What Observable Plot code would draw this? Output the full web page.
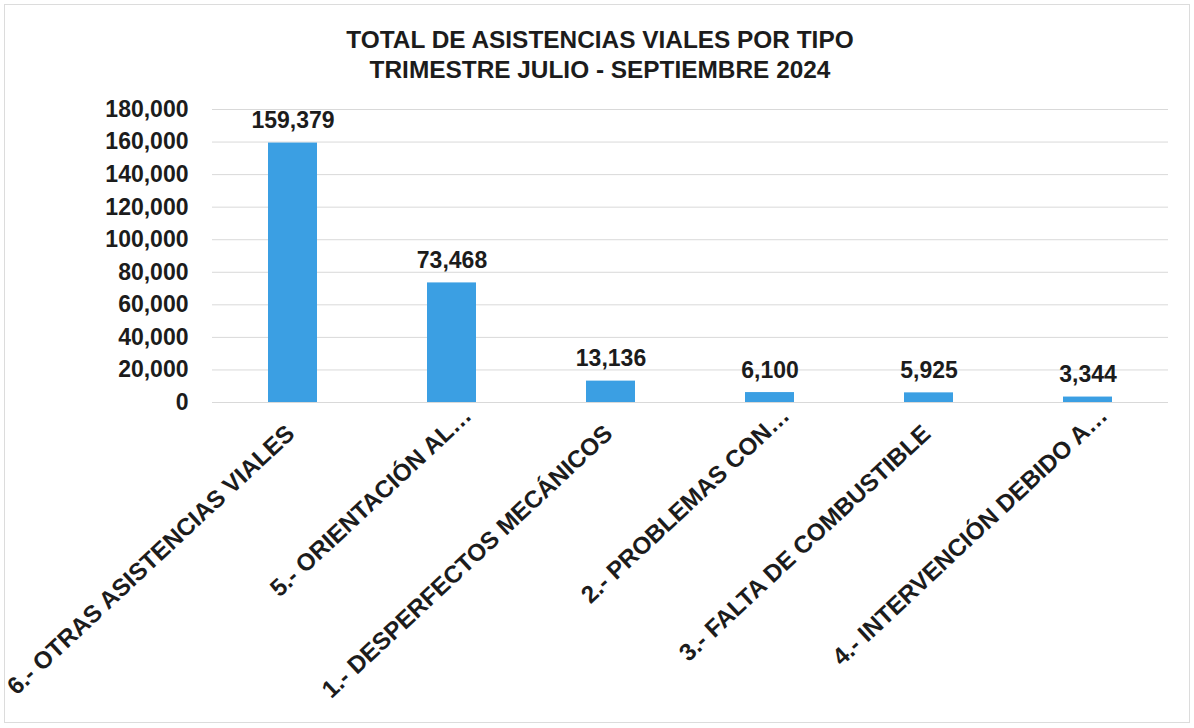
<!DOCTYPE html>
<html>
<head>
<meta charset="utf-8">
<script src="https://cdn.jsdelivr.net/npm/d3@7"></script>
<script src="https://cdn.jsdelivr.net/npm/@observablehq/plot@0.6"></script>
<style>
  html, body { margin: 0; padding: 0; background: #ffffff; }
  #wrap { position: relative; width: 1194px; height: 728px; overflow: hidden; background: #fff;
          font-family: "Liberation Sans", Arial, sans-serif; color: #1c1c1c; }
  #frame { position: absolute; left: 4px; top: 4px; width: 1186px; height: 719px;
           border: 1px solid #dcdcdc; box-sizing: border-box; pointer-events: none; }
  #title { box-sizing: border-box; height: 90px; padding-top: 25px; text-align: center;
           font-size: 24.4px; font-weight: bold; line-height: 30px; padding-left: 6px; }
  #chart svg { display: block; }
</style>
</head>
<body>
<div id="wrap">
  <div id="frame"></div>
  <div id="title">TOTAL DE ASISTENCIAS VIALES POR TIPO<br>TRIMESTRE JULIO - SEPTIEMBRE 2024</div>
  <div id="chart"></div>
</div>
<script>
const categories = [
  "6.- OTRAS ASISTENCIAS VIALES",
  "5.- ORIENTACIÓN AL…",
  "1.- DESPERFECTOS MECÁNICOS",
  "2.- PROBLEMAS CON…",
  "3.- FALTA DE COMBUSTIBLE",
  "4.- INTERVENCIÓN DEBIDO A…"
];
const values = [159379, 73468, 13136, 6100, 5925, 3344];
const yTicks = [0, 20000, 40000, 60000, 80000, 100000, 120000, 140000, 160000, 180000];

const data = categories.map((c, i) => ({category: c, value: values[i]}));
const truncated = data.filter(d => d.category.endsWith("…"));
const full = data.filter(d => !d.category.endsWith("…"));
const fmt = d3.format(",");
const textColor = "#1c1c1c";

const chart = Plot.plot({
  width: 1194,
  height: 638,
  marginLeft: 212,
  marginRight: 26,
  marginTop: 19,
  marginBottom: 326,
  style: {fontFamily: "'Liberation Sans', Arial, sans-serif", fontWeight: "bold", color: textColor, background: "transparent"},
  x: {type: "band", domain: categories, paddingInner: 0.69, paddingOuter: 0.345, axis: null},
  y: {domain: [0, 180000], axis: null},
  marks: [
    Plot.ruleY(yTicks, {stroke: "#d9d9d9", strokeWidth: 1}),
    Plot.barY(data, {x: "category", y: "value", fill: "#3b9fe3"}),
    Plot.axisY({ticks: yTicks, tickFormat: fmt, tickSize: 0, tickPadding: 24, fontSize: 23, fontWeight: "bold", fill: textColor, label: null}),
    Plot.text(data, {x: "category", y: "value", text: d => fmt(d.value), dy: -15, lineAnchor: "bottom", fontSize: 23, fontWeight: "bold", fill: textColor}),
    Plot.text(full, {x: "category", y: () => 0, text: "category", rotate: -43, textAnchor: "end", lineAnchor: "bottom", dx: 3, dy: 33, fontSize: 24.2, fontWeight: "bold", fill: textColor}),
    Plot.text(truncated, {x: "category", y: () => 0, text: "category", rotate: -43, textAnchor: "end", lineAnchor: "bottom", dx: 21, dy: 15, fontSize: 24.2, fontWeight: "bold", fill: textColor})
  ]
});
document.getElementById("chart").appendChild(chart);
</script>
</body>
</html>
